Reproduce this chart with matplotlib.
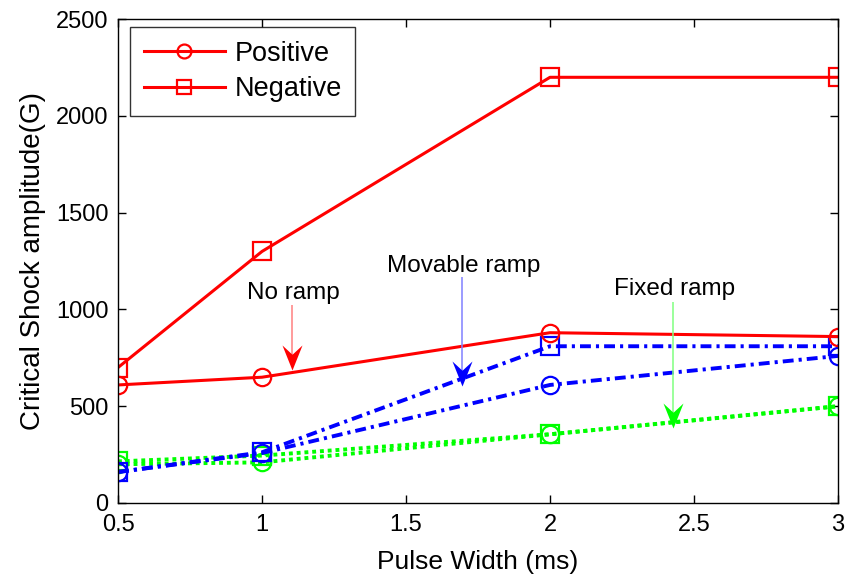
import matplotlib
matplotlib.use("Agg")
import matplotlib.pyplot as plt

plt.rcParams['font.family'] = ['Liberation Sans', 'DejaVu Sans']

pulse_width = [0.5, 1, 2, 3]

# No ramp (red, solid)
noramp_pos = [610, 650, 880, 860]
noramp_neg = [700, 1300, 2200, 2200]
# Movable ramp (blue, dash-dot)
movable_pos = [160, 258, 610, 760]
movable_neg = [160, 262, 810, 810]
# Fixed ramp (green, dotted)
fixed_pos = [200, 210, 355, 500]
fixed_neg = [215, 245, 355, 500]

xticks = [0.5, 1, 1.5, 2, 2.5, 3]
xtick_labels = ['0.5', '1', '1.5', '2', '2.5', '3']
yticks = [0, 500, 1000, 1500, 2000, 2500]

# annotations: label, text x, text baseline y, arrow x, arrow start y, arrow tip y
ann_labels = ["No ramp", "Movable ramp", "Fixed ramp"]
ann_text_x = [1.109, 1.70, 2.433]
ann_text_y = [1054, 1193, 1074]
ann_arrow_x = [1.103, 1.693, 2.428]
ann_arrow_y0 = [1023, 1167, 1040]
ann_arrow_y1 = [687, 604, 387]
ann_colors = [((1, 0, 0), (1, 0.5, 0.5)),
              ((0, 0, 1), (0.5, 0.5, 1)),
              ((0, 1, 0), (0.5, 1, 0.5))]

fig = plt.figure(figsize=(8.46, 5.80), dpi=100)
ax = fig.add_axes([0.1395, 0.1328, 0.851, 0.834])

green = (0, 1, 0)
blue = (0, 0, 1)
red = (1, 0, 0)
ms = 12.5
mew = 1.6

kw_g = dict(color=green, lw=2.8, ms=ms, mfc='none', mew=mew, dashes=[1.0, 1.0])
kw_b = dict(color=blue, lw=2.8, ms=ms, mfc='none', mew=mew, dashes=[2.8, 1.3, 0.8, 1.3])
kw_r = dict(color=red, lw=2.2, ms=ms, mfc='none', mew=mew)

ax.plot(pulse_width, fixed_pos, marker='o', **kw_g)
ax.plot(pulse_width, fixed_neg, marker='s', **kw_g)
ax.plot(pulse_width, movable_pos, marker='o', **kw_b)
ax.plot(pulse_width, movable_neg, marker='s', **kw_b)
l1, = ax.plot(pulse_width, noramp_pos, marker='o', label='Positive', **kw_r)
l2, = ax.plot(pulse_width, noramp_neg, marker='s', label='Negative', **kw_r)

head = [(0, 0), (-0.4, 1), (0, 0.63), (0.4, 1), (0, 0)]
for label, tx, ty, axx, y0, y1, (solid, pale) in zip(ann_labels, ann_text_x, ann_text_y,
                                                      ann_arrow_x, ann_arrow_y0, ann_arrow_y1,
                                                      ann_colors):
    ax.text(tx, ty, label, ha='center', va='baseline', fontsize=17.5)
    ax.plot([axx, axx], [y0, y1 + 60], color=pale, lw=1.1, solid_capstyle='butt')
    ax.plot([axx], [y1], linestyle='none', marker=head, ms=36, color=solid, mew=0)

ax.set_xlim(0.5, 3)
ax.set_ylim(0, 2500)
ax.set_xticks(xticks)
ax.set_xticklabels(xtick_labels)
ax.set_yticks(yticks)
ax.tick_params(direction='in', top=True, right=True, labelsize=17, length=6, width=1)
ax.tick_params(axis='x', pad=8)
ax.tick_params(axis='y', pad=7)
for s in ax.spines.values():
    s.set_linewidth(1.0)

ax.set_xlabel('Pulse Width (ms)', fontsize=19, labelpad=10)
ax.set_ylabel('Critical Shock amplitude(G)', fontsize=20, labelpad=7)

leg = ax.legend(handles=[l1, l2], loc='upper left', bbox_to_anchor=(0.0167, 0.9835),
                fontsize=19.5, frameon=True, fancybox=False, edgecolor='black',
                handlelength=3.0, handletextpad=0.36, borderaxespad=0.0,
                borderpad=0.5, labelspacing=0.35, markerscale=0.8)
leg.get_frame().set_linewidth(1.0)

fig.savefig('out.png', dpi=100)
